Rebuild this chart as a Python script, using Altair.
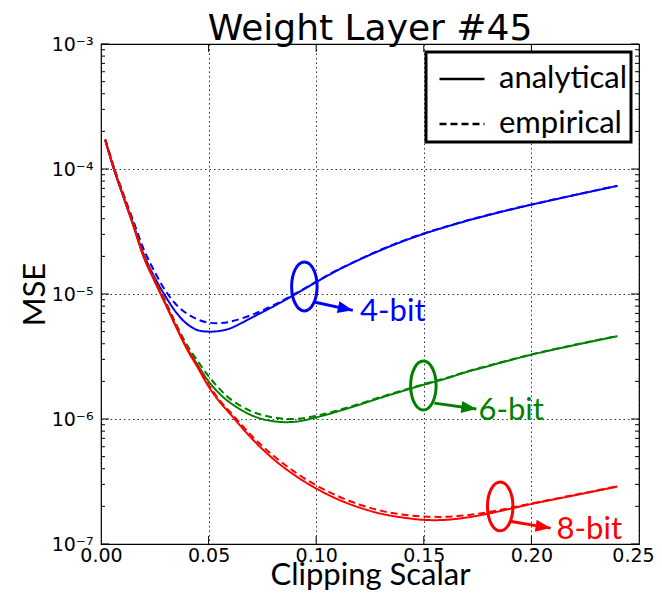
import altair as alt
import pandas as pd

# ---------------- data ----------------
clip = [0.002, 0.006, 0.01, 0.015, 0.02, 0.025, 0.03, 0.035, 0.04, 0.045,
        0.05, 0.055, 0.06, 0.07, 0.08, 0.09, 0.10, 0.11, 0.12, 0.13,
        0.14, 0.15, 0.16, 0.17, 0.18, 0.19, 0.20, 0.22, 0.24]

mse4_analytical = [1.70e-4, 1.00e-4, 6.3e-5, 3.6e-5, 2.05e-5, 1.35e-5, 9.55e-6, 7.1e-6, 5.75e-6, 5.13e-6,
                   5.0e-6, 5.06e-6, 5.31e-6, 6.46e-6, 7.94e-6, 9.89e-6, 1.245e-5, 1.55e-5, 1.88e-5, 2.24e-5,
                   2.63e-5, 3.03e-5, 3.43e-5, 3.85e-5, 4.28e-5, 4.72e-5, 5.18e-5, 6.18e-5, 7.33e-5]
mse4_empirical = [1.72e-4, 1.03e-4, 6.6e-5, 3.85e-5, 2.25e-5, 1.5e-5, 1.06e-5, 8.2e-6, 6.95e-6, 6.25e-6,
                  5.9e-6, 5.85e-6, 6.0e-6, 6.8e-6, 8.1e-6, 1.0e-5, 1.255e-5, 1.56e-5, 1.89e-5, 2.26e-5,
                  2.65e-5, 3.05e-5, 3.45e-5, 3.87e-5, 4.3e-5, 4.74e-5, 5.2e-5, 6.2e-5, 7.35e-5]
mse6_analytical = [1.70e-4, 1.00e-4, 6.3e-5, 3.55e-5, 1.95e-5, 1.26e-5, 8.3e-6, 5.45e-6, 3.7e-6, 2.7e-6,
                   2.0e-6, 1.6e-6, 1.35e-6, 1.07e-6, 9.6e-7, 9.5e-7, 1.03e-6, 1.15e-6, 1.30e-6, 1.48e-6,
                   1.67e-6, 1.88e-6, 2.1e-6, 2.38e-6, 2.65e-6, 2.95e-6, 3.27e-6, 3.9e-6, 4.6e-6]
mse6_empirical = [1.72e-4, 1.02e-4, 6.45e-5, 3.65e-5, 2.02e-5, 1.31e-5, 8.7e-6, 5.7e-6, 3.9e-6, 2.9e-6,
                  2.2e-6, 1.75e-6, 1.45e-6, 1.15e-6, 1.03e-6, 1.0e-6, 1.06e-6, 1.17e-6, 1.32e-6, 1.50e-6,
                  1.69e-6, 1.90e-6, 2.12e-6, 2.40e-6, 2.67e-6, 2.97e-6, 3.29e-6, 3.92e-6, 4.62e-6]
mse8_analytical = [1.70e-4, 1.00e-4, 6.3e-5, 3.55e-5, 1.95e-5, 1.26e-5, 8.3e-6, 5.4e-6, 3.6e-6, 2.57e-6,
                   1.82e-6, 1.38e-6, 1.10e-6, 7.0e-7, 4.8e-7, 3.55e-7, 2.78e-7, 2.28e-7, 1.96e-7, 1.75e-7,
                   1.63e-7, 1.56e-7, 1.56e-7, 1.63e-7, 1.75e-7, 1.91e-7, 2.09e-7, 2.45e-7, 2.88e-7]
mse8_empirical = [1.72e-4, 1.02e-4, 6.45e-5, 3.62e-5, 2.0e-5, 1.3e-5, 8.6e-6, 5.6e-6, 3.72e-6, 2.65e-6,
                  1.88e-6, 1.42e-6, 1.14e-6, 7.35e-7, 5.1e-7, 3.78e-7, 2.95e-7, 2.42e-7, 2.07e-7, 1.85e-7,
                  1.72e-7, 1.66e-7, 1.65e-7, 1.70e-7, 1.80e-7, 1.94e-7, 2.11e-7, 2.47e-7, 2.9e-7]

bits = ["4-bit", "6-bit", "8-bit"]
bit_colors = ["#0000ff", "#008000", "#ff0000"]
kinds = ["analytical", "empirical"]

# annotation positions (data coordinates)
ellipse_x = [0.0945, 0.1498, 0.1855]
ellipse_y = [1.15e-5, 1.85e-6, 2.0e-7]
arrow_x0 = [0.0995, 0.1549, 0.190]
arrow_y0 = [8.6e-6, 1.34e-6, 1.52e-7]
arrow_x1 = [0.117, 0.1744, 0.2089]
arrow_y1 = [7.4e-6, 1.2e-6, 1.34e-7]
arrow_angle = [12, 8, 9]
label_x = [0.1204, 0.1754, 0.2117]
label_y = [7.2e-6, 1.15e-6, 1.3e-7]

x_ticks = [0, 0.05, 0.10, 0.15, 0.20, 0.25]
y_major = [1e-7, 1e-6, 1e-5, 1e-4, 1e-3]
y_minor = [k * 10.0 ** e for e in range(-7, -3) for k in range(2, 10)]
x_major = [0.05, 0.10, 0.15, 0.20]

# ---------------- tables ----------------
series = {
    ("4-bit", "analytical"): mse4_analytical,
    ("4-bit", "empirical"): mse4_empirical,
    ("6-bit", "analytical"): mse6_analytical,
    ("6-bit", "empirical"): mse6_empirical,
    ("8-bit", "analytical"): mse8_analytical,
    ("8-bit", "empirical"): mse8_empirical,
}
rows = []
for (b, k), vals in series.items():
    for xv, yv in zip(clip, vals):
        rows.append({"x": xv, "y": yv, "bits": b, "kind": k, "grp": b + k})
df = pd.DataFrame(rows)

ann = pd.DataFrame({
    "bits": bits, "ex": ellipse_x, "ey": ellipse_y,
    "ax0": arrow_x0, "ay0": arrow_y0, "ax1": arrow_x1, "ay1": arrow_y1,
    "ang": arrow_angle, "lx": label_x, "ly": label_y,
})

W, H = 538, 500
XT, YT = "Clipping Scalar", "MSE"
xscale = alt.Scale(domain=[0, 0.25], nice=False, zero=False)
yscale = alt.Scale(type="log", domain=[1e-7, 1e-3], nice=False)
cscale = alt.Scale(domain=bits, range=bit_colors)


def X(f):
    return alt.X(f, scale=xscale, title=XT)


def Y(f):
    return alt.Y(f, scale=yscale, title=YT)


sup = "['⁰','¹','²','³','⁴','⁵','⁶','⁷']"
lines = alt.Chart(df).mark_line(strokeWidth=2, interpolate="catmull-rom").encode(
    x=alt.X("x:Q", scale=xscale, title=XT,
            axis=alt.Axis(values=x_ticks, format=".2f",
                          labelOffset={"condition": {"test": "datum.value > 0.24", "value": -6},
                                       "value": 0})),
    y=alt.Y("y:Q", scale=yscale, title=YT,
            axis=alt.Axis(values=y_major,
                          labelExpr="'10⁻' + " + sup + "[round(-log(datum.value)/LN10)]")),
    color=alt.Color("bits:N", scale=cscale, legend=None),
    strokeDash=alt.StrokeDash("kind:N",
                              scale=alt.Scale(domain=kinds, range=[[1, 0], [7, 4]]),
                              legend=alt.Legend(title=None, orient="top-right", offset=8,
                                                labelFont="Lato", labelFontSize=31,
                                                labelColor="black", symbolType="stroke",
                                                symbolSize=2025, symbolStrokeWidth=2.5,
                                                symbolStrokeColor="black", symbolOffset=9,
                                                labelOffset=13,
                                                strokeColor="black",
                                                fillColor="white", padding=3,
                                                rowPadding=6, cornerRadius=0)),
    detail="grp:N",
    order=alt.Order("x:Q"),
)

ellipse_path = "M -0.52 0 A 0.52 1 0 1 1 0.52 0 A 0.52 1 0 1 1 -0.52 0 Z"
ellipses = alt.Chart(ann).mark_point(shape=ellipse_path, size=2400, strokeWidth=3,
                                     filled=False, opacity=1).encode(
    x=X("ex:Q"), y=Y("ey:Q"),
    color=alt.Color("bits:N", scale=cscale, legend=None),
)

arrow_lines = alt.Chart(ann).mark_rule(strokeWidth=3).encode(
    x=X("ax0:Q"), y=Y("ay0:Q"), x2="ax1:Q", y2="ay1:Q",
    color=alt.Color("bits:N", scale=cscale, legend=None),
)

head_path = "M 0 0 L -2 -0.8 L -2 0.8 Z"
arrow_heads = alt.Chart(ann).mark_point(shape=head_path, size=225, filled=True,
                                        opacity=1, strokeWidth=0).encode(
    x=X("ax1:Q"), y=Y("ay1:Q"),
    angle=alt.Angle("ang:Q", scale=None),
    color=alt.Color("bits:N", scale=cscale, legend=None),
)

labels = alt.Chart(ann).mark_text(font="Lato", fontSize=31, align="left",
                                  baseline="middle").encode(
    x=X("lx:Q"), y=Y("ly:Q"),
    text="bits:N",
    color=alt.Color("bits:N", scale=cscale, legend=None),
)

# inward ticks (matplotlib classic style)
ymaj = pd.DataFrame({"t": y_major})
ymin = pd.DataFrame({"t": y_minor})
xmaj = pd.DataFrame({"t": x_major})
tick_style = dict(color="black", strokeWidth=1)
ticks = [
    alt.Chart(ymaj).mark_rule(**tick_style).encode(
        y=Y("t:Q"), x=alt.value(0), x2=alt.value(8)),
    alt.Chart(ymaj).mark_rule(**tick_style).encode(
        y=Y("t:Q"), x=alt.value(W - 8), x2=alt.value(W)),
    alt.Chart(ymin).mark_rule(**tick_style).encode(
        y=Y("t:Q"), x=alt.value(0), x2=alt.value(4)),
    alt.Chart(ymin).mark_rule(**tick_style).encode(
        y=Y("t:Q"), x=alt.value(W - 4), x2=alt.value(W)),
    alt.Chart(xmaj).mark_rule(**tick_style).encode(
        x=X("t:Q"), y=alt.value(H), y2=alt.value(H - 8)),
    alt.Chart(xmaj).mark_rule(**tick_style).encode(
        x=X("t:Q"), y=alt.value(0), y2=alt.value(8)),
]

chart = alt.layer(lines, *ticks, ellipses, arrow_lines, arrow_heads, labels).properties(
    width=W, height=H,
    title=alt.TitleParams("Weight Layer #45", font="DejaVu Sans", fontSize=36,
                          fontWeight="normal", color="black", anchor="middle",
                          offset=4, dy=17),
    autosize=alt.AutoSizeParams(type="none"),
    padding={"left": 93, "top": 36, "right": 15, "bottom": 48},
    background="white",
).configure_view(
    stroke="black", strokeWidth=1.2
).configure_axis(
    grid=True, ticks=False, domain=False,
    labelFont="DejaVu Sans", labelFontSize=19, labelColor="black",
    titleFont="Lato", titleFontSize=31, titleFontWeight="normal", titleColor="black",
    gridColor="black", gridDash=[1.5, 3], gridOpacity=0.8, labelFlush=False,
).configure_axisX(
    labelPadding=2, titlePadding=-5
).configure_axisY(
    labelPadding=8, titlePadding=0
).configure_legend(
    strokeWidth=3
)

chart.save("out.html", embed_options={"renderer": "svg", "actions": False})
